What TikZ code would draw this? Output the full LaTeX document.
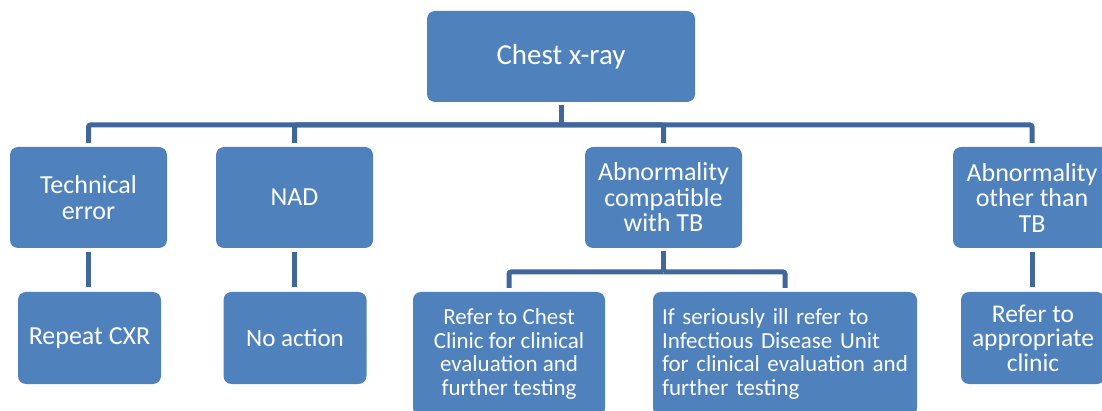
\documentclass[tikz,border=0pt]{standalone}
\usepackage{fontspec}
\setmainfont{Carlito}
\definecolor{boxblue}{HTML}{4F81BD}
\definecolor{linkblue}{HTML}{41679A}
\begin{document}
\begin{tikzpicture}[x=1pt,y=-1pt,
  box/.style={rectangle, rounded corners=8pt, fill=boxblue, text=white,
    align=center, inner sep=0pt},
  toprow/.style={box, minimum width=157pt, minimum height=101pt,
    font=\fontsize{26}{25.5}\selectfont},
  actionbox/.style={box, minimum width=143pt, minimum height=92pt},
  referbox/.style={box, minimum height=124pt,
    font=\fontsize{23}{23.5}\selectfont},
  conn/.style={draw=linkblue, line width=5pt, rounded corners=2pt},
  tobox/.style={conn, shorten >=4pt},
  frombox/.style={conn, shorten <=3pt},
  link/.style={conn, shorten <=4pt, shorten >=5pt}]
\useasboundingbox (0,0) rectangle (1102,411);
\clip (0,0) rectangle (1102,411);

% root
\node[box, minimum width=268pt, minimum height=91pt,
  font=\fontsize{29}{30}\selectfont] (chest) at (561,56.5) {Chest x-ray};

% findings
\node[toprow] (tech)  at (88.5,197.5)  {Technical\\error};
\node[toprow] (nad)   at (294.5,197.5) {NAD};
\node[toprow] (abtb)  at (663.5,197.5) {Abnormality\\compatible\\with TB};
\node[toprow, minimum width=158pt] (abother) at (1032,197.5) {Abnormality\\other than\\TB};

% actions
\node[actionbox, font=\fontsize{26}{26}\selectfont] (repeat) at (89.5,338) {Repeat CXR};
\node[actionbox, font=\fontsize{25}{26}\selectfont] (noact)  at (295,338)  {No action};
\node[referbox, minimum width=192pt] (chestclinic) at (509,354)
  {Refer to Chest\\Clinic for clinical\\evaluation and\\further testing};
\node[referbox, minimum width=264pt, text width=246pt, align=left] (idu) at (785,354)
  {If seriously ill refer to\\Infectious Disease Unit\\for clinical evaluation and\\further testing};
\node[actionbox, minimum width=144pt, font=\fontsize{25.5}{24.5}\selectfont] (clinic) at (1033,338)
  {Refer to\\appropriate\\clinic};

% root to findings
\coordinate (bar1) at (561,125);
\draw[frombox] (chest.south) -- (bar1);
\draw[tobox] (bar1) -| (tech.north);
\draw[tobox] (bar1) -| (nad.north);
\draw[tobox] (bar1) -| (abtb.north);
\draw[tobox] (bar1) -| (abother.north);

% findings to actions
\draw[link] (tech.south) -- (tech.south |- repeat.north);
\draw[link] (nad.south) -- (nad.south |- noact.north);
\draw[link] (abother.south) -- (abother.south |- clinic.north);

\coordinate (bar2) at (663.5,272);
\draw[frombox] (abtb.south) -- (bar2);
\draw[tobox] (bar2) -| (chestclinic.north);
\draw[tobox] (bar2) -| (idu.north);
\end{tikzpicture}
\end{document}
